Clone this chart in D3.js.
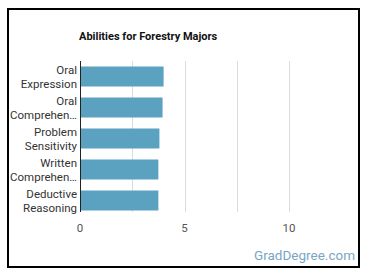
<!DOCTYPE html>
<html>
<head>
<meta charset="utf-8">
<script src="https://cdn.jsdelivr.net/npm/d3@7"></script>
<style>
  html, body { margin: 0; padding: 0; background: #fff; }
  svg { display: block; font-family: Roboto, "Noto Sans", sans-serif; }
</style>
</head>
<body>
<script>
const categories = [
  ["Oral", "Expression"],
  ["Oral", "Comprehen…"],
  ["Problem", "Sensitivity"],
  ["Written", "Comprehen…"],
  ["Deductive", "Reasoning"]
];
const values = [4.0, 3.95, 3.8, 3.75, 3.75];
const tickValues = [0, 5, 10];
const gridValues = [2.5, 5, 7.5, 10];
const title = "Abilities for Forestry Majors";
const watermark = "GradDegree.com";

const W = 370, H = 278;
const svg = d3.select("body").append("svg").attr("width", W).attr("height", H);

// border
svg.append("rect").attr("x", 8).attr("y", 9).attr("width", 351).attr("height", 258)
  .attr("fill", "#fff").attr("stroke", "#000").attr("stroke-width", 2);

const x = d3.scaleLinear().domain([0, 10]).range([80, 289]);
const y = d3.scaleBand().domain(d3.range(categories.length))
  .range([55.5, 221.5]).paddingInner(0.355).paddingOuter(0.355);

// gridlines
svg.append("g").selectAll("line").data(gridValues).join("line")
  .attr("x1", d => Math.round(x(d)) + 0.5).attr("x2", d => Math.round(x(d)) + 0.5)
  .attr("y1", 61).attr("y2", 212)
  .attr("stroke", "#dcdcdc").attr("stroke-width", 1);

// bars
svg.append("g").selectAll("rect").data(values).join("rect")
  .attr("x", x(0))
  .attr("y", (d, i) => y(i))
  .attr("width", d => x(d) - x(0))
  .attr("height", y.bandwidth())
  .attr("fill", "#5ba1c0");

// y axis line
svg.append("line").attr("x1", 80.5).attr("x2", 80.5).attr("y1", 61).attr("y2", 212)
  .attr("stroke", "#222").attr("stroke-width", 1);

// category labels
const lab = svg.append("g").selectAll("text").data(categories).join("text")
  .attr("text-anchor", "end")
  .attr("font-size", 11.5)
  .attr("fill", "#333");
lab.each(function(d, i) {
  const cy = y(i) + y.bandwidth() / 2;
  d3.select(this).selectAll("tspan").data(d).join("tspan")
    .attr("x", 77)
    .attr("y", (t, j) => cy - 2.5 + j * 14)
    .text(t => t);
});

// x axis tick labels
svg.append("g").selectAll("text").data(tickValues).join("text")
  .attr("x", d => x(d)).attr("y", 232)
  .attr("text-anchor", "middle")
  .attr("font-size", 11.5).attr("fill", "#555")
  .text(d => d);

// title
svg.append("text").attr("x", 79).attr("y", 40)
  .attr("font-size", 11).attr("font-weight", "bold").attr("fill", "#111")
  .text(title);

// watermark
svg.append("text").attr("x", 355).attr("y", 260)
  .attr("text-anchor", "end").attr("font-size", 13.5).attr("fill", "#7aa6c6")
  .text(watermark);
</script>
</body>
</html>
